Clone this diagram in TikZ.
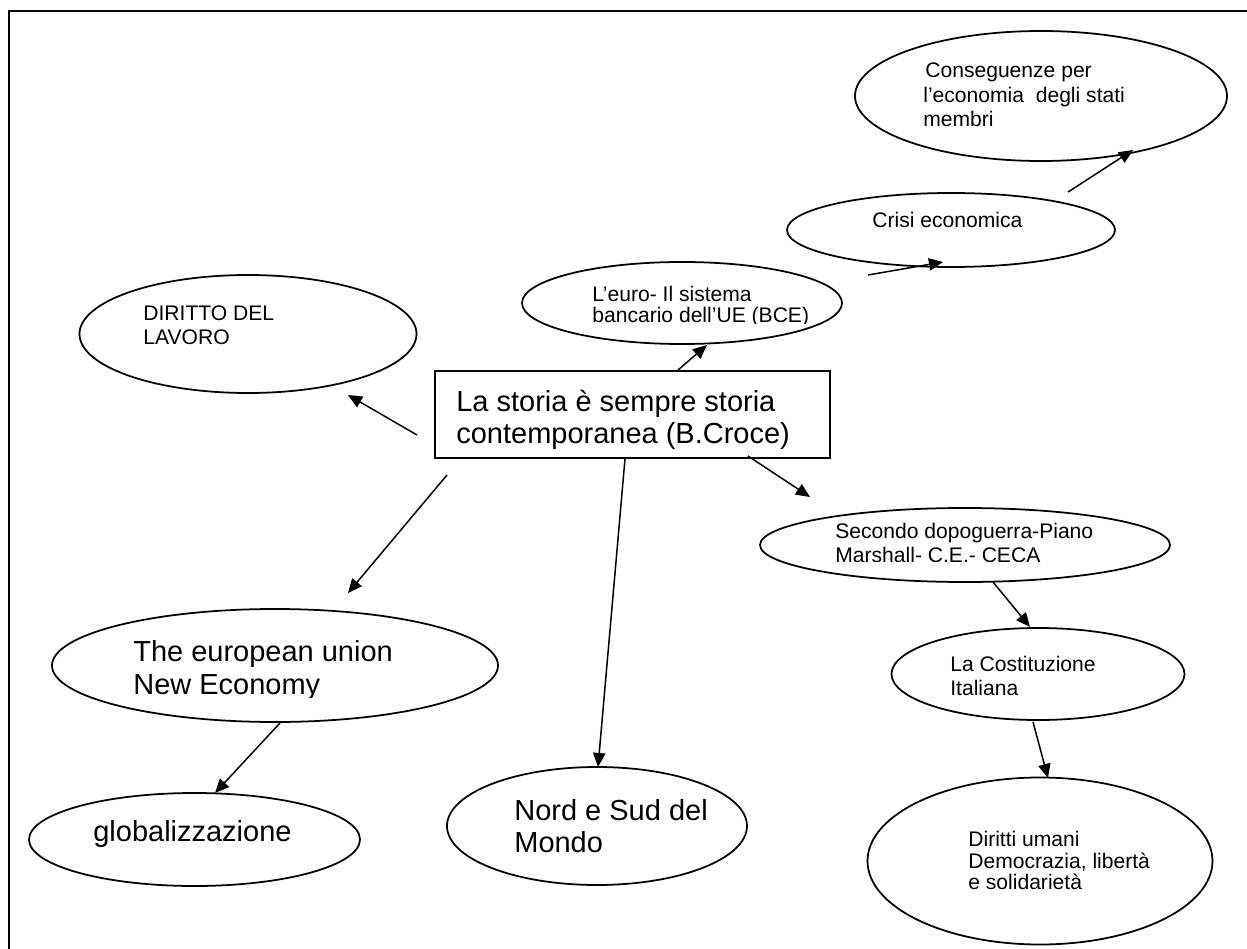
\documentclass[tikz,border=0pt]{standalone}
\usepackage{fontspec}
\setmainfont{Liberation Sans}
\usetikzlibrary{shapes.geometric,arrows.meta}
\begin{document}
\begin{tikzpicture}[x=0.02cm,y=-0.02cm,
  bubble/.style 2 args={ellipse, draw, line width=1pt, minimum width=#1*0.02cm,
    minimum height=#2*0.02cm, inner sep=0pt},
  small/.style={anchor=base west, inner sep=0pt, font=\fontsize{12pt}{14pt}\selectfont},
  big/.style={anchor=base west, inner sep=0pt, font=\fontsize{16.5pt}{19pt}\selectfont},
  link/.style={line width=0.85pt, -{Triangle[length=8pt,width=7pt]}}]
\useasboundingbox (0,0) rectangle (1247,949);

% page frame (top and left edges)
\draw[line width=1.7pt] (9,949) -- (9,11) -- (1247,11);

% central box
\node[draw, line width=1pt, minimum width=395*0.02cm, minimum height=87*0.02cm,
      inner sep=0pt] (croce) at (632.5,414.5) {};
\node[big] (croce1) at (456,411) {La storia è sempre storia};
\node[big] (croce2) at (456,443) {contemporanea (B.Croce)};

% ellipses
\node[bubble={372}{130}] (cons)    at (1041,96)  {};
\node[bubble={328}{74}]  (crisi)   at (951,230)  {};
\node[bubble={320}{82}]  (euro)    at (682,303)  {};
\node[bubble={337}{118}] (lavoro)  at (248,334)  {};
\node[bubble={410}{74}]  (secondo) at (965,545)  {};
\node[bubble={293}{92}]  (cost)    at (1038,674) {};
\node[bubble={446}{113}] (europe)  at (275,665.5){};
\node[bubble={331}{93}]  (glob)    at (194.5,839.5) {};
\node[bubble={300}{118}] (nord)    at (597,826)  {};
\node[bubble={345}{167}] (diritti) at (1040,861) {};

% texts
\node[small] (cons1) at (925,77.7)  {Conseguenze per};
\node[small] (cons2) at (923,102.7) {l’economia\ \ degli stati};
\node[small] (cons3) at (923,127)   {membri};

\node[small] (crisi1) at (872,228) {Crisi economica};

\node[small] (euro1) at (592,302) {L’euro- Il sistema};
\begin{scope}
  \clip (500,250) rectangle (860,323.5);
  \node[small] (euro2) at (592,323) {bancario dell’UE (BCE)};
\end{scope}

\node[small] (lav1) at (143,320.7) {DIRITTO DEL};
\node[small] (lav2) at (143,345)   {LAVORO};

\node[small] (sec1) at (835,538) {Secondo dopoguerra-Piano};
\begin{scope}
  \clip (740,500) rectangle (1190,561.5);
  \node[small] (sec2) at (835,562.5) {Marshall- C.E.- CECA};
\end{scope}

\node[small] (cost1) at (950,671.7) {La Costituzione};
\node[small] (cost2) at (950,695)   {Italiana};

\node[big] (eur1) at (133,661) {The european union};
\begin{scope}
  \clip (40,600) rectangle (510,697);
  \node[big] (eur2) at (133,694) {New Economy};
\end{scope}

\node[big] (glob1) at (93,841) {globalizzazione};

\node[big] (nord1) at (514,820) {Nord e Sud del};
\node[big] (nord2) at (514,852) {Mondo};

\node[small] (dir1) at (968,846) {Diritti umani};
\node[small] (dir2) at (968,868) {Democrazia, libertà};
\node[small] (dir3) at (968,889) {e solidarietà};

% connector ends
\coordinate (a1s) at (1068,192);  \coordinate (a1e) at (1133,150);
\coordinate (a2s) at (868,275);   \coordinate (a2e) at (943,262);
\coordinate (a3s) at (678,370);   \coordinate (a3e) at (707,345);
\coordinate (a4s) at (417,435);   \coordinate (a4e) at (348,395);
\coordinate (a5s) at (447,475);   \coordinate (a5e) at (348,593);
\coordinate (a6s) at (croce.south -| 625,0); \coordinate (a6e) at (598,767);
\coordinate (a7s) at (748,456);   \coordinate (a7e) at (810,497);
\coordinate (a8s) at (993,582);   \coordinate (a8e) at (1030,627);
\coordinate (a9s) at (1033,722);  \coordinate (a9e) at (1048,778);
\coordinate (a10s) at (280,723);  \coordinate (a10e) at (215,793);

% connectors
\draw[link] (a1s) -- (a1e);
\draw[link] (a2s) -- (a2e);
\draw[link] (a3s) -- (a3e);
\draw[link] (a4s) -- (a4e);
\draw[link] (a5s) -- (a5e);
\draw[link] (a6s) -- (a6e);
\draw[link] (a7s) -- (a7e);
\draw[link] (a8s) -- (a8e);
\draw[link] (a9s) -- (a9e);
\draw[link] (a10s) -- (a10e);
\end{tikzpicture}
\end{document}
